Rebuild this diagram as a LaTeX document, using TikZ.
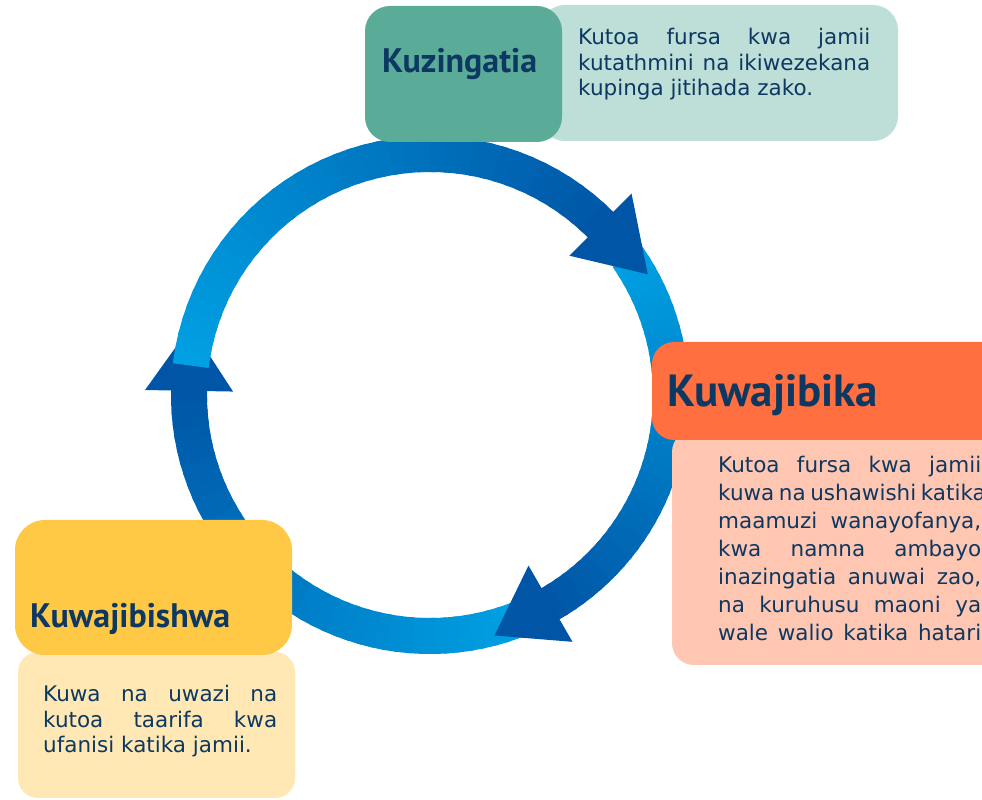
\documentclass[tikz,border=0pt]{standalone}
\usepackage{fontspec}
\setmainfont{DejaVu Sans}
\newfontfamily\headfont{PT Sans}
\usetikzlibrary{arrows,positioning}
\definecolor{ringlight}{HTML}{00A0E2}
\definecolor{ringdark}{HTML}{0055A6}
\definecolor{navy}{HTML}{0D3862}
\definecolor{tealdark}{HTML}{5BAB99}
\definecolor{teallight}{HTML}{BEDFD8}
\definecolor{orangedark}{HTML}{FF6F40}
\definecolor{orangelight}{HTML}{FFC6B2}
\definecolor{yellowdark}{HTML}{FFC845}
\definecolor{yellowlight}{HTML}{FFE8B3}
\tolerance=10000
\hbadness=10000
\hfuzz=50pt
\hyphenpenalty=10000
\tikzset{
  ring/.style = {line width = 36pt},
  heading/.style = {inner sep = 0pt, text = navy, font = \headfont\bfseries\fontsize{34}{40}\selectfont},
  bodytext/.style = {inner sep = 0pt, text = navy, align = justify, anchor = base west, font = \fontsize{21.5}{25.5}\selectfont}
}
\newcommand{\ringpart}[2]{%
  \foreach \k in {0,...,39}{%
    \pgfmathsetmacro{\angA}{#1+(#2-#1)*\k/40}%
    \pgfmathsetmacro{\angB}{#1+(#2-#1)*(\k+1.4)/40}%
    \pgfmathtruncatemacro{\pc}{100-2.5*\k}%
    \draw[ring, ringlight!\pc!ringdark] (ctr) ++(\angA:241) arc (\angA:\angB:241);
  }%
}
\newcommand{\ringhead}[2]{%
  \fill[ringdark] ([shift={(#1:197)}]ctr) -- ([shift={(#1:285)}]ctr) -- ([shift={(#2:249)}]ctr) -- cycle;%
}
\begin{document}
\begin{tikzpicture}[x = 1pt, y = 1pt]
\useasboundingbox (0,0) rectangle (982,800);
\coordinate (ctr) at (430,405);
\ringpart{-69}{-181}
\ringhead{-181}{-196}
\ringpart{173}{45}
\ringpart{35}{-60}
\ringhead{45}{29}
\ringhead{-60}{-75}
\fill[teallight, rounded corners = 25pt] (540,659) rectangle (898,795);
\fill[tealdark, rounded corners = 25pt] (365,658) rectangle (562,794);
\fill[orangelight, rounded corners = 22pt] (672,135) rectangle (1010,370);
\fill[orangedark, rounded corners = 22pt] (652,360) rectangle (1010,458);
\fill[yellowlight, rounded corners = 20pt] (18,2) rectangle (295,148);
\fill[yellowdark, rounded corners = 30pt] (15,145) rectangle (292,280);
\node[heading, anchor = base west] (kuzingatia) at (382,727) {Kuzingatia};
\node[heading, anchor = base west, font = \headfont\bfseries\fontsize{45}{52}\selectfont] (kuwajibika) at (667,393) {Kuwajibika};
\node[heading, anchor = base west] (kuwajibishwa) at (30,172) {Kuwajibishwa};
\node[bodytext, text width = 292pt] (kuzingatiatext) at (578,755) {Kutoa fursa kwa jamii\linebreak kutathmini na ikiwezekana\linebreak kupinga jitihada zako.};
\node[bodytext, text width = 263pt, font = \fontsize{21.5}{28}\selectfont] (kuwajibikatext) at (718,327) {Kutoa fursa kwa jamii\linebreak \makebox[263pt][s]{kuwa na ushawishi katika}\linebreak maamuzi wanayofanya,\linebreak kwa namna ambayo\linebreak inazingatia anuwai zao,\linebreak na kuruhusu maoni ya\linebreak \makebox[263pt][s]{wale walio katika hatari}};
\node[bodytext, text width = 234pt] (kuwajibishwatext) at (43,98) {Kuwa na uwazi na\linebreak kutoa taarifa kwa\linebreak ufanisi katika jamii.};
\end{tikzpicture}
\end{document}
